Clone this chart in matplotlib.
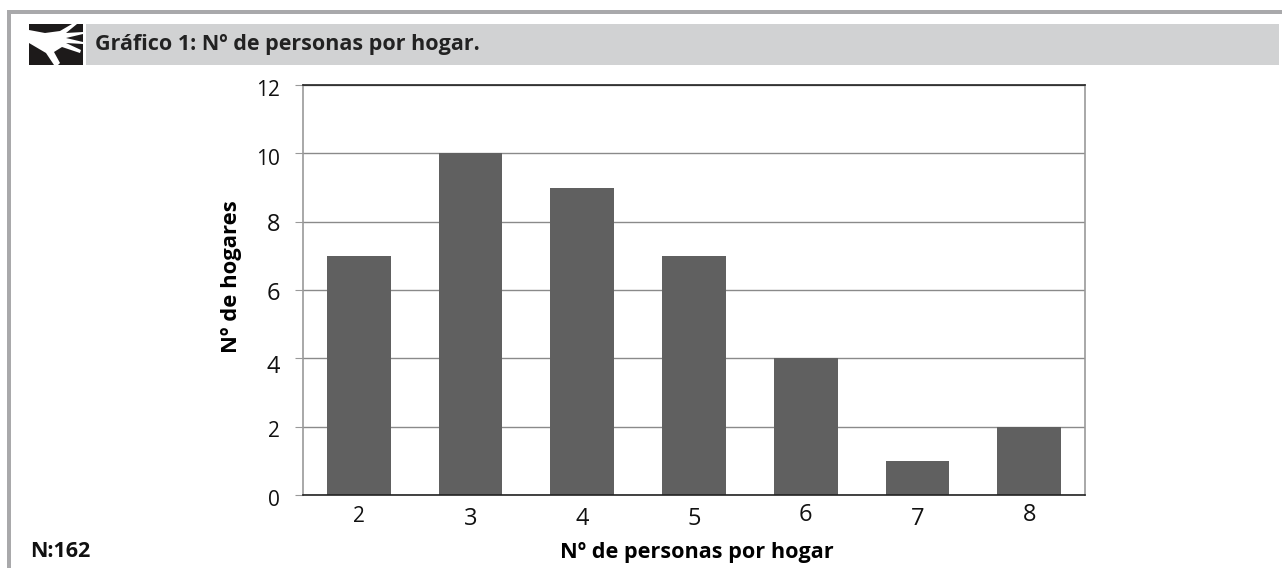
import matplotlib
matplotlib.use("Agg")
import matplotlib.pyplot as plt
from matplotlib.patches import Rectangle, Polygon
from matplotlib.transforms import ScaledTranslation

plt.rcParams['font.family'] = ['Open Sans', 'DejaVu Sans']

# data
personas = ["2", "3", "4", "5", "6", "7", "8"]
hogares = [7, 10, 9, 7, 4, 1, 2]
y_ticks = [0, 2, 4, 6, 8, 10, 12]

# old style numerals of the original: small digits are shorter, some drop below the line
small_labels = ["0", "2", "10", "12"]
x_shift = {"2": 0, "3": -2, "4": -2, "5": -2, "6": 2, "7": -2, "8": 2}
y_shift = {"0": -6, "2": -5, "4": -9, "6": -4, "8": -3, "10": -6, "12": -5}

W, H = 1282, 568
fig = plt.figure(figsize=(W / 100, H / 100), dpi=100)

# background layer in pixel coords (y going down)
bg = fig.add_axes([0, 0, 1, 1])
bg.set_xlim(0, W)
bg.set_ylim(H, 0)
bg.axis("off")

# outer frame, title band, hand icon
frame_col = "#a9a9ab"
bg.add_patch(Rectangle((7, 10), W - 7, 3.5, color=frame_col, lw=0))
bg.add_patch(Rectangle((7, 10), 4, H - 10, color=frame_col, lw=0))
bg.add_patch(Rectangle((86, 24), 1193, 41, color="#d1d2d3", lw=0))
bg.add_patch(Rectangle((29, 24), 54, 41, color="#1d1a1a", lw=0))
hand = [(29, 30), (45, 33), (60, 31), (72, 24), (77, 24), (66, 33), (83, 32), (83, 34),
        (66, 38), (83, 42), (83, 44), (66, 43), (81, 50), (80, 53), (62, 47), (54, 52),
        (60, 63), (58, 65), (54, 65), (46, 53), (29, 43)]
bg.add_patch(Polygon(hand, closed=True, color="white", lw=0))

bg.text(95, 50, "Gráfico 1: Nº de personas por hogar.", fontsize=15.5, fontweight="bold",
        color="#222222", va="baseline", ha="left")
bg.text(30, 557, "N:162", fontsize=15.5, fontweight="bold", color="#111111", va="baseline", ha="left")

# chart axes
left, right, top, bottom = 303, 1085, 85, 495
ax = fig.add_axes([left / W, 1 - bottom / H, (right - left) / W, (bottom - top) / H])
ax.set_axisbelow(True)
ax.grid(axis="y", color="#8a8a8a", lw=1)
ax.bar(personas, hogares, width=0.57, color="#606060")
ax.set_xlim(-0.5, 6.5)
ax.set_ylim(0, 12)
ax.set_yticks(y_ticks)

for side in ["top", "bottom"]:
    ax.spines[side].set_color("#222222")
    ax.spines[side].set_linewidth(1.2)
for side in ["left", "right"]:
    ax.spines[side].set_color("#999999")
    ax.spines[side].set_linewidth(1.2)

ax.tick_params(axis="y", length=5.8, color="#999999", pad=10.8, labelcolor="#111111")
ax.tick_params(axis="x", length=0, pad=15.8, labelcolor="#111111")

fig.canvas.draw()
for lab in ax.get_xticklabels():
    t = lab.get_text()
    lab.set_va("center")
    lab.set_fontsize(15 if t in small_labels else 17)
    lab.set_transform(lab.get_transform() + ScaledTranslation(0, x_shift[t] / 100, fig.dpi_scale_trans))
for lab in ax.get_yticklabels():
    t = lab.get_text()
    lab.set_va("center")
    lab.set_fontsize(15 if t in small_labels else 17)
    lab.set_transform(lab.get_transform() + ScaledTranslation(0, y_shift[t] / 100, fig.dpi_scale_trans))

ax.set_xlabel("Nº de personas por hogar", fontsize=15.6, fontweight="bold", va="baseline")
ax.xaxis.set_label_coords((697 - left) / (right - left), -(558 - bottom) / (bottom - top))
ax.set_ylabel("Nº de hogares", fontsize=15.8, fontweight="bold", va="baseline")
ax.yaxis.set_label_coords((237 - left) / (right - left), (bottom - 277) / (bottom - top))

fig.savefig("out.png", dpi=100)
